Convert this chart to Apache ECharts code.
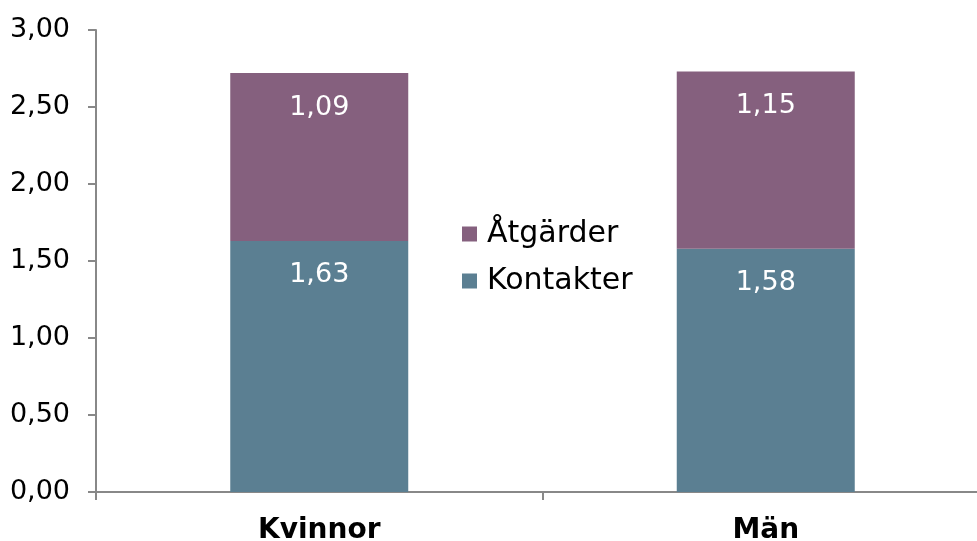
<!DOCTYPE html>
<html>
<head>
<meta charset="utf-8">
<script src="https://cdn.jsdelivr.net/npm/echarts@6/dist/echarts.min.js"></script>
<style>
    html, body {margin: 0; padding: 0; background: #fff; overflow: hidden;}
    #main {width: 989px; height: 541px;}
</style>
</head>
<body>
<div id="main"></div>
<script>
const categories = ['Kvinnor', 'Män'];
const kontakter = [1.63, 1.58];
const atgarder = [1.09, 1.15];
const yTicks = {min: 0, max: 3, interval: 0.5};

const fmt = v => Number(v).toFixed(2).replace('.', ',');
const font = 'DejaVu Sans, Verdana, sans-serif';

const echart = echarts.init(document.getElementById('main'));
const option = {
    textStyle: {fontFamily: font},
    animation: false,
    grid: {
        left: 96,
        right: 0,
        top: 30,
        bottom: 49,
        outerBoundsMode: 'none',
        containLabel: false,
    },
    legend: {
        orient: 'vertical',
        left: 457,
        top: 214,
        icon: 'rect',
        itemWidth: 15,
        itemHeight: 15,
        itemGap: 17,
        textStyle: {fontSize: 30, color: '#000', fontFamily: font, padding: [0, 0, 0, 5]},
        data: ['Åtgärder', 'Kontakter'],
    },
    xAxis: {
        type: 'category',
        data: categories,
        axisLine: {lineStyle: {color: '#888', width: 2}},
        axisTick: {show: true, length: 8, lineStyle: {color: '#888', width: 2}},
        axisLabel: {
            color: '#000',
            fontSize: 28,
            fontWeight: 'bold',
            margin: 25,
            fontFamily: font,
        },
    },
    yAxis: {
        type: 'value',
        min: yTicks.min,
        max: yTicks.max,
        interval: yTicks.interval,
        axisLine: {show: true, lineStyle: {color: '#888', width: 2}},
        axisTick: {show: true, length: 8, lineStyle: {color: '#888', width: 2}},
        splitLine: {show: false},
        axisLabel: {
            color: '#000',
            fontSize: 27,
            margin: 26,
            formatter: fmt,
            fontFamily: font,
        },
    },
    series: [
        {
            name: 'Kontakter',
            type: 'bar',
            stack: 'total',
            barWidth: 178,
            data: kontakter,
            itemStyle: {color: '#5b7f92'},
            label: {
                show: true,
                position: 'insideTop',
                distance: 21,
                color: '#fff',
                fontSize: 27,
                formatter: p => fmt(p.value),
                fontFamily: font,
            },
        },
        {
            name: 'Åtgärder',
            type: 'bar',
            stack: 'total',
            barWidth: 178,
            data: atgarder,
            itemStyle: {color: '#85607e'},
            label: {
                show: true,
                position: 'insideTop',
                distance: 21,
                color: '#fff',
                fontSize: 27,
                formatter: p => fmt(p.value),
                fontFamily: font,
            },
        },
    ],
};
echart.setOption(option);
</script>
</body>
</html>
